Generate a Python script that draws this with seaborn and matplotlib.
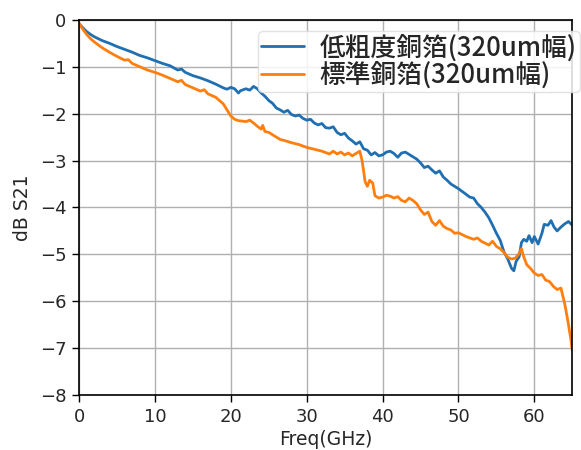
import matplotlib
matplotlib.use("Agg")
import matplotlib.pyplot as plt
import seaborn as sns
import pandas as pd

# S21 insertion loss vs frequency, two copper foil types (320um line width)
freq_low = [0, 0.5, 1, 1.5, 2, 2.5, 3, 3.5, 4, 5, 6, 7, 8, 9, 10, 11, 12, 13, 13.5, 14,
            15, 16, 17, 18, 19, 19.5, 20, 20.5, 21, 21.3, 22, 22.5, 23, 23.5, 24, 24.5, 25, 25.5, 26, 26.5,
            27, 27.5, 28, 28.5, 29, 29.5, 30, 30.5, 31, 31.5, 32, 32.5, 33, 33.5, 34, 34.5, 35, 35.5, 36, 36.5,
            37, 37.5, 38, 38.5, 39, 39.5, 40, 40.5, 41, 41.5, 42, 42.5, 43, 43.5, 44, 44.5, 45, 45.5, 46, 46.5,
            47, 47.5, 48, 48.5, 49, 49.5, 50, 50.5, 51, 51.5, 52, 52.5, 53, 53.5, 54, 54.5, 55, 55.5, 56, 56.5,
            57, 57.3, 57.6, 58, 58.3, 58.6, 59, 59.3, 59.7, 60, 60.5, 61, 61.3, 61.8, 62.2, 62.6, 63, 63.5, 64, 64.5, 65]
s21_low = [-0.08, -0.17, -0.25, -0.31, -0.36, -0.40, -0.44, -0.47, -0.50, -0.57, -0.63, -0.69, -0.76, -0.81, -0.87, -0.93, -0.98, -1.07, -1.05, -1.12,
           -1.19, -1.24, -1.30, -1.37, -1.45, -1.48, -1.44, -1.47, -1.56, -1.51, -1.47, -1.50, -1.42, -1.47, -1.56, -1.63, -1.72, -1.78, -1.88, -1.92,
           -1.97, -1.93, -2.02, -2.05, -2.03, -2.10, -2.14, -2.12, -2.20, -2.24, -2.21, -2.30, -2.31, -2.28, -2.40, -2.45, -2.42, -2.52, -2.58, -2.65,
           -2.60, -2.75, -2.78, -2.88, -2.83, -2.90, -2.88, -2.82, -2.80, -2.85, -2.93, -2.84, -2.82, -2.87, -2.92, -2.97, -3.05, -3.15, -3.12, -3.20,
           -3.27, -3.22, -3.35, -3.42, -3.50, -3.55, -3.60, -3.66, -3.72, -3.78, -3.80, -3.92, -4.00, -4.10, -4.22, -4.38, -4.55, -4.70, -4.95, -5.10,
           -5.30, -5.35, -5.15, -5.05, -4.75, -4.68, -4.72, -4.60, -4.75, -4.62, -4.78, -4.55, -4.36, -4.38, -4.28, -4.42, -4.50, -4.42, -4.35, -4.30, -4.38]

freq_std = [0, 0.5, 1, 1.5, 2, 2.5, 3, 3.5, 4, 5, 6, 6.5, 7, 8, 9, 10, 11, 12, 13, 13.5,
            14, 15, 16, 16.5, 17, 18, 19, 19.5, 20, 20.5, 21, 22, 22.5, 23, 23.5, 24, 24.2, 24.5, 25, 25.5,
            26, 26.5, 27, 28, 29, 30, 31, 32, 33, 33.5, 34, 34.5, 35, 35.5, 36, 36.5, 37, 37.3, 37.7, 38,
            38.3, 38.7, 39, 39.5, 40, 40.5, 41, 41.5, 42, 42.5, 43, 43.5, 44, 44.5, 45, 45.5, 46, 46.5, 47, 47.5,
            48, 48.5, 49, 49.5, 50, 51, 52, 52.5, 53, 53.5, 54, 54.5, 55, 55.5, 56, 56.5, 57, 57.5, 58, 58.3,
            58.6, 59, 59.5, 60, 60.5, 61, 61.5, 62, 62.5, 63, 63.5, 64, 64.4, 64.8, 65]
s21_std = [-0.08, -0.20, -0.31, -0.40, -0.47, -0.53, -0.59, -0.64, -0.69, -0.78, -0.86, -0.85, -0.93, -1.00, -1.07, -1.12, -1.18, -1.25, -1.32, -1.29,
           -1.38, -1.45, -1.52, -1.49, -1.58, -1.65, -1.79, -1.92, -2.05, -2.12, -2.15, -2.17, -2.14, -2.20, -2.27, -2.33, -2.25, -2.38, -2.40, -2.45,
           -2.50, -2.55, -2.57, -2.62, -2.66, -2.72, -2.76, -2.80, -2.86, -2.80, -2.86, -2.82, -2.88, -2.84, -2.90, -2.85, -2.80, -3.00, -3.45, -3.55,
           -3.42, -3.48, -3.75, -3.80, -3.78, -3.74, -3.76, -3.80, -3.77, -3.85, -3.88, -3.80, -3.85, -3.92, -4.05, -4.15, -4.10, -4.30, -4.38, -4.28,
           -4.40, -4.45, -4.48, -4.55, -4.54, -4.62, -4.68, -4.65, -4.72, -4.76, -4.80, -4.72, -4.83, -4.88, -4.96, -5.06, -5.10, -5.08, -4.98, -4.88,
           -5.05, -5.22, -5.30, -5.40, -5.45, -5.43, -5.55, -5.58, -5.68, -5.75, -5.72, -6.05, -6.40, -6.80, -7.05]

label_low = "低粗度銅箔(320um幅)"
label_std = "標準銅箔(320um幅)"
x_ticks = [0, 10, 20, 30, 40, 50, 60]
y_ticks = [0, -1, -2, -3, -4, -5, -6, -7, -8]

sns.set_theme(style="ticks")
plt.rcParams["font.family"] = ["DejaVu Sans", "Noto Sans CJK JP"]

df = pd.concat([
    pd.DataFrame({"freq": freq_low, "s21": s21_low, "foil": label_low}),
    pd.DataFrame({"freq": freq_std, "s21": s21_std, "foil": label_std}),
], ignore_index=True)

fig = plt.figure(figsize=(5.81, 4.5), dpi=100)
ax = fig.add_axes([0.136, 0.122, 0.849, 0.834])

sns.lineplot(data=df, x="freq", y="s21", hue="foil", sort=False, estimator=None,
             palette=["#1f6fb2", "#ff7f0e"], linewidth=2.0, ax=ax)

ax.set_xlim(0, 65)
ax.set_ylim(-8, 0)
ax.set_xticks(x_ticks)
ax.set_yticks(y_ticks)
ax.grid(True, color="#b0b0b0", linewidth=1.0)
ax.tick_params(labelsize=13, width=1.0, length=5, pad=4, color="black")
for sp in ax.spines.values():
    sp.set_color("black")
    sp.set_linewidth(1.2)
ax.set_xlabel("Freq(GHz)", fontsize=13.5, labelpad=3)
ax.set_ylabel("dB S21", fontsize=13.5, labelpad=6)

leg = ax.legend(loc="upper left", bbox_to_anchor=(0.362, 0.97), borderaxespad=0,
                prop={"family": "Noto Sans CJK JP", "size": 18.5, "weight": "medium"},
                handlelength=1.7, handletextpad=0.6, labelspacing=0.0,
                borderpad=0.12, frameon=True, framealpha=0.85)
leg.get_frame().set_edgecolor("#dddddd")
for line in leg.get_lines():
    line.set_linewidth(2.0)

fig.savefig("out.png", dpi=100)
